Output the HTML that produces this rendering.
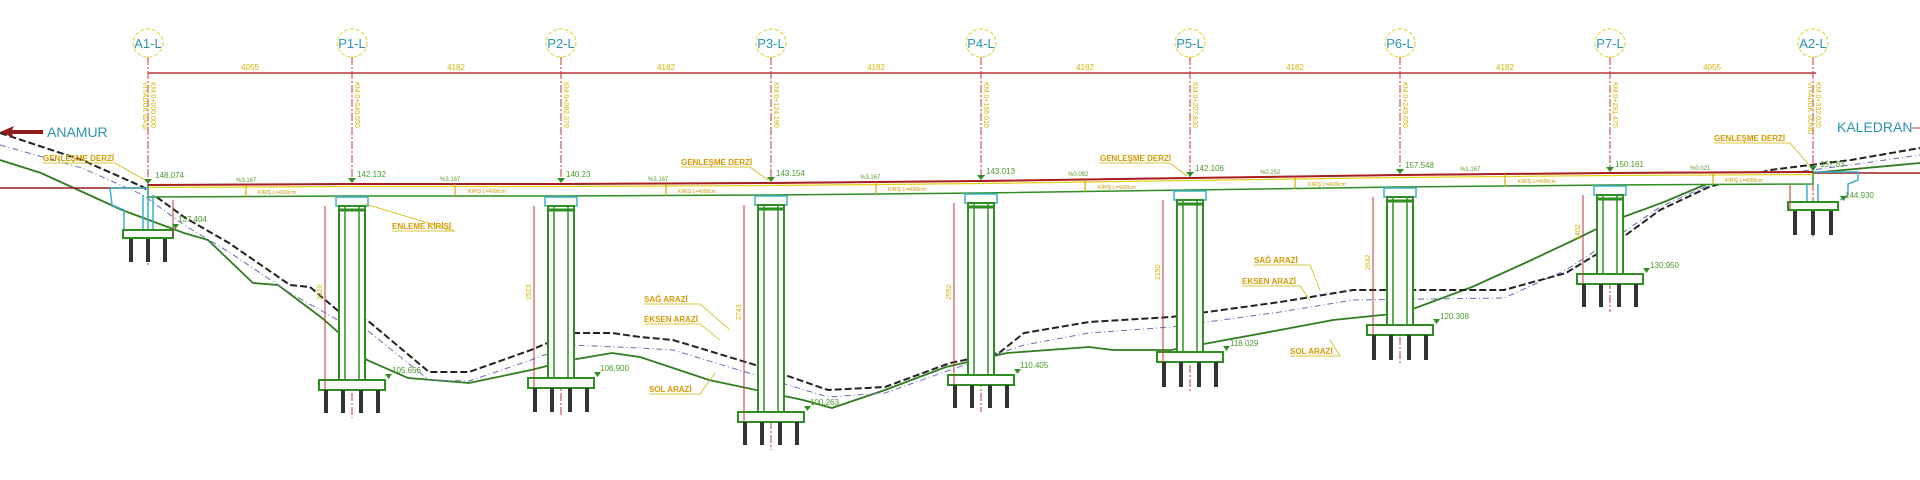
<!DOCTYPE html>
<html><head><meta charset="utf-8"><style>
html,body{margin:0;padding:0;background:#fff;width:1920px;height:480px;overflow:hidden}
svg{display:block}
text{font-family:"Liberation Sans",sans-serif}
</style></head><body>
<svg width="1920" height="480" viewBox="0 0 1920 480" xmlns="http://www.w3.org/2000/svg">
<!-- dimension line -->
<line x1="148" y1="73" x2="1816" y2="73" stroke="#b83a3a" stroke-width="1.5"/>
<g font-size="8" fill="#d4b400" text-anchor="middle">
<text x="250" y="70">4055</text><text x="456" y="70">4182</text><text x="666" y="70">4182</text>
<text x="876" y="70">4182</text><text x="1085" y="70">4182</text><text x="1295" y="70">4182</text>
<text x="1505" y="70">4182</text><text x="1712" y="70">4055</text>
</g>
<!-- axes & bubbles -->
<g stroke="#c23a3a" stroke-width="1" stroke-dasharray="8,2,2,2">
<line x1="148" y1="57" x2="148" y2="265"/><line x1="352" y1="57" x2="352" y2="418"/>
<line x1="561" y1="57" x2="561" y2="416"/><line x1="771" y1="57" x2="771" y2="450"/>
<line x1="981" y1="57" x2="981" y2="412"/><line x1="1190" y1="57" x2="1190" y2="392"/>
<line x1="1400" y1="57" x2="1400" y2="365"/><line x1="1610" y1="57" x2="1610" y2="312"/>
<line x1="1813" y1="57" x2="1813" y2="238"/>
</g>
<g fill="none" stroke="#e8d84a" stroke-width="1.2" stroke-dasharray="4,2">
<ellipse cx="148" cy="43" rx="15" ry="14"/><ellipse cx="352" cy="43" rx="15" ry="14"/>
<ellipse cx="561" cy="43" rx="15" ry="14"/><ellipse cx="771" cy="43" rx="15" ry="14"/>
<ellipse cx="981" cy="43" rx="15" ry="14"/><ellipse cx="1190" cy="43" rx="15" ry="14"/>
<ellipse cx="1400" cy="43" rx="15" ry="14"/><ellipse cx="1610" cy="43" rx="15" ry="14"/>
<ellipse cx="1813" cy="43" rx="15" ry="14"/>
</g>
<g font-size="13" fill="#2a93b5" text-anchor="middle">
<text x="148" y="48">A1-L</text><text x="352" y="48">P1-L</text><text x="561" y="48">P2-L</text>
<text x="771" y="48">P3-L</text><text x="981" y="48">P4-L</text><text x="1190" y="48">P5-L</text>
<text x="1400" y="48">P6-L</text><text x="1610" y="48">P7-L</text><text x="1813" y="48">A2-L</text>
</g>
<!-- vertical station text -->
<g font-size="7" fill="#d4b400">
<text transform="translate(151,82) rotate(90)">KM:0+000.000</text><text transform="translate(143,82) rotate(90)">VİYADÜK BAŞI</text>
<text transform="translate(355,82) rotate(90)">KM:0+040.550</text><text transform="translate(564,82) rotate(90)">KM:0+082.370</text>
<text transform="translate(774,82) rotate(90)">KM:0+124.190</text><text transform="translate(984,82) rotate(90)">KM:0+166.010</text>
<text transform="translate(1193,82) rotate(90)">KM:0+207.830</text><text transform="translate(1403,82) rotate(90)">KM:0+249.650</text>
<text transform="translate(1613,82) rotate(90)">KM:0+291.470</text><text transform="translate(1816,82) rotate(90)">KM:0+332.020</text><text transform="translate(1808,82) rotate(90)">VİYADÜK SONU</text>
</g>
<!-- ground lines -->
<polyline fill="none" stroke="#2f7d1e" stroke-width="1.8" points="0,160 41,173 122,210 184,233 208,240 253,283 278,285 322,318 339,333 367,360 408,378 469,383 531,370 571,360 612,353 640,357 709,380 803,400 832,408 885,390 946,367 1007,353 1089,347 1113,350 1171,350 1280,330 1333,320 1402,313 1472,287 1525,263 1574,240 1615,220 1664,202 1709,183 1729,177 1811,173 1920,163"/>
<polyline fill="none" stroke="#6a6ab8" stroke-width="1" stroke-dasharray="6,3,1,3" points="0,145 82,168 143,195 184,225 229,252 290,293 343,323 367,330 429,380 469,381 531,360 571,345 640,348 673,350 762,377 828,397 885,393 950,370 1024,345 1089,333 1171,327 1280,312 1353,300 1504,298 1566,270 1615,238 1660,207 1709,185 1770,175 1851,165 1920,155"/>
<polyline fill="none" stroke="#222" stroke-width="2" stroke-dasharray="7,3" points="0,133 82,160 143,187 184,217 229,243 290,285 310,287 343,315 367,320 429,372 469,372 531,350 571,333 612,333 640,337 673,340 762,367 828,390 885,387 950,363 999,353 1024,333 1089,322 1171,317 1280,302 1353,290 1504,290 1566,273 1615,243 1660,210 1709,187 1770,170 1851,160 1920,148"/>
<!-- road line outside -->
<line x1="0" y1="188" x2="148" y2="188" stroke="#9b1c1c" stroke-width="1.5"/>
<line x1="1813" y1="173" x2="1920" y2="173" stroke="#9b1c1c" stroke-width="1.5"/>
<!-- deck -->
<polygon points="148,185 352,184 561,184 771,183 981,181 1190,178 1400,175 1610,173 1813,172 1813,184 1610,185 1400,187 1190,190 981,193 771,195 561,196 352,196 148,197" fill="#fff" stroke="#2f8f22" stroke-width="1.5"/>
<polyline fill="none" stroke="#a81e1e" stroke-width="2" points="148,185 352,184 561,184 771,183 981,181 1190,178 1400,175 1610,173 1813,172"/>
<polyline fill="none" stroke="#e6cf1a" stroke-width="1.2" points="148,187.5 352,186.5 561,186.5 771,185.5 981,183.5 1190,180.5 1400,177.5 1610,175.5 1813,174.5"/>
<g stroke="#d4a800" stroke-width="1.2">
<line x1="246" y1="185" x2="246" y2="197"/><line x1="455" y1="184" x2="455" y2="196"/>
<line x1="666" y1="184" x2="666" y2="196"/><line x1="876" y1="182" x2="876" y2="194"/>
<line x1="1085" y1="180" x2="1085" y2="192"/><line x1="1295" y1="177" x2="1295" y2="189"/>
<line x1="1505" y1="174" x2="1505" y2="186"/><line x1="1713" y1="173" x2="1713" y2="185"/>
</g>
<g font-size="5" fill="#c89800">
<text x="258" y="194">KİRİŞ L=4000cm</text><text x="468" y="193">KİRİŞ L=4000cm</text><text x="678" y="193">KİRİŞ L=4000cm</text>
<text x="888" y="191">KİRİŞ L=4000cm</text><text x="1098" y="189">KİRİŞ L=4000cm</text><text x="1308" y="186">KİRİŞ L=4000cm</text>
<text x="1518" y="183">KİRİŞ L=4000cm</text><text x="1725" y="182">KİRİŞ L=4000cm</text>
</g>
<g font-size="6" fill="#5a9a2a">
<text x="236" y="182">%3.167</text><text x="440" y="181">%3.167</text><text x="648" y="181">%3.167</text>
<text x="860" y="179">%3.167</text><text x="1068" y="176">%0.092</text><text x="1260" y="174">%0.252</text>
<text x="1460" y="171">%1.167</text><text x="1690" y="170">%0.021</text>
</g>
<!-- piers -->
<g fill="#fff" stroke-width="1.5">
<!-- generic per pier -->
<g id="p1">
<rect x="336" y="197" width="32" height="9" stroke="#3bb0c9"/>
<rect x="339" y="206" width="26" height="174" stroke="#2f8f22" stroke-width="2"/>
<rect x="319" y="380" width="66" height="10" stroke="#2f8f22" stroke-width="2"/>
</g>
<rect x="545" y="197" width="32" height="9" stroke="#3bb0c9"/>
<rect x="548" y="206" width="26" height="172" stroke="#2f8f22" stroke-width="2"/>
<rect x="528" y="378" width="66" height="10" stroke="#2f8f22" stroke-width="2"/>
<rect x="755" y="196" width="32" height="9" stroke="#3bb0c9"/>
<rect x="758" y="205" width="26" height="207" stroke="#2f8f22" stroke-width="2"/>
<rect x="738" y="412" width="66" height="10" stroke="#2f8f22" stroke-width="2"/>
<rect x="965" y="194" width="32" height="9" stroke="#3bb0c9"/>
<rect x="968" y="203" width="26" height="172" stroke="#2f8f22" stroke-width="2"/>
<rect x="948" y="375" width="66" height="10" stroke="#2f8f22" stroke-width="2"/>
<rect x="1174" y="191" width="32" height="9" stroke="#3bb0c9"/>
<rect x="1177" y="200" width="26" height="152" stroke="#2f8f22" stroke-width="2"/>
<rect x="1157" y="352" width="66" height="10" stroke="#2f8f22" stroke-width="2"/>
<rect x="1384" y="188" width="32" height="9" stroke="#3bb0c9"/>
<rect x="1387" y="197" width="26" height="128" stroke="#2f8f22" stroke-width="2"/>
<rect x="1367" y="325" width="66" height="10" stroke="#2f8f22" stroke-width="2"/>
<rect x="1594" y="186" width="32" height="9" stroke="#3bb0c9"/>
<rect x="1597" y="195" width="26" height="79" stroke="#2f8f22" stroke-width="2"/>
<rect x="1577" y="274" width="66" height="10" stroke="#2f8f22" stroke-width="2"/>
</g>
<!-- inner column lines -->
<g stroke="#2f8f22" stroke-width="1.5">
<path d="M345 206V380M359 206V380M554 206V378M568 206V378M764 205V412M778 205V412M974 203V375M988 203V375M1183 200V352M1197 200V352M1393 197V325M1407 197V325M1603 195V274M1617 195V274"/>
<path d="M339 210H365M548 210H574M758 209H784M968 207H994M1177 204H1203M1387 201H1413M1597 199H1623" stroke-width="3"/>
</g>
<!-- piles -->
<g stroke="#333" stroke-width="4">
<path d="M326 390V413M343 390V413M361 390V413M378 390V413"/>
<path d="M535 388V412M552 388V412M570 388V412M587 388V412"/>
<path d="M745 422V445M762 422V445M780 422V445M797 422V445"/>
<path d="M955 385V408M972 385V408M990 385V408M1007 385V408"/>
<path d="M1164 362V387M1181 362V387M1199 362V387M1216 362V387"/>
<path d="M1374 335V360M1391 335V360M1409 335V360M1426 335V360"/>
<path d="M1584 284V307M1601 284V307M1619 284V307M1636 284V307"/>
<path d="M131 238V262M148 238V262M165 238V262"/>
<path d="M1795 210V235M1813 210V235M1831 210V235"/>
</g>
<!-- abutments -->
<g fill="none" stroke="#3bb0c9" stroke-width="1.5">
<path d="M110 188H148V230M110 188L112 205L124 210V230H170M143 195V230M153 195V230"/>
<path d="M1813 172H1858V180L1848 184V195L1840 200M1807 184V210M1818 184V210"/>
</g>
<rect x="123" y="230" width="50" height="8" fill="#fff" stroke="#2f8f22" stroke-width="2"/>
<rect x="1788" y="202" width="50" height="8" fill="#fff" stroke="#2f8f22" stroke-width="2"/>
<!-- height dim lines -->
<g stroke="#b83a3a" stroke-width="1">
<path d="M325 206V390M534 206V388M744 205V422M954 203V385M1163 200V362M1373 197V335M1583 195V284M1790 185V210M173 200V238"/>
</g>
<g font-size="7" fill="#d4b400">
<text transform="translate(322,300) rotate(-90)">2420</text><text transform="translate(531,300) rotate(-90)">2523</text>
<text transform="translate(741,320) rotate(-90)">2743</text><text transform="translate(951,300) rotate(-90)">2592</text>
<text transform="translate(1160,280) rotate(-90)">2150</text><text transform="translate(1370,270) rotate(-90)">2642</text>
<text transform="translate(1580,240) rotate(-90)">1402</text>
</g>
<!-- bearing triangles -->
<g fill="#2f8f22">
<path d="M144,179h8l-4,5z M348,178h8l-4,5z M557,178h8l-4,5z M767,177h8l-4,5z M977,175h8l-4,5z M1186,172h8l-4,5z M1396,169h8l-4,5z M1606,167h8l-4,5z M1809,166h8l-4,5z"/>
<path d="M385,374h7l-3.5,5z M594,372h7l-3.5,5z M804,406h7l-3.5,5z M1014,369h7l-3.5,5z M1223,346h7l-3.5,5z M1433,319h7l-3.5,5z M1643,268h7l-3.5,5z M1840,196h7l-3.5,5z M172,224h7l-3.5,5z"/>
</g>
<g font-size="8" fill="#4a9a2a">
<text x="155" y="178">148.074</text><text x="357" y="177">142.132</text><text x="566" y="177">140.23</text>
<text x="776" y="176">143.154</text><text x="986" y="174">143.013</text><text x="1195" y="171">142.106</text>
<text x="1405" y="168">157.548</text><text x="1615" y="167">150.161</text><text x="1820" y="167">157.83</text>
<text x="178" y="222">137.404</text><text x="392" y="373">105.656</text><text x="600" y="371">108.900</text>
<text x="810" y="405">100.263</text><text x="1020" y="368">110.405</text><text x="1230" y="346">118.029</text>
<text x="1440" y="319">120.308</text><text x="1650" y="268">130.950</text><text x="1845" y="198">144.930</text>
</g>
<!-- labels -->
<g font-size="8" fill="#d49a00" font-weight="bold">
<text x="43" y="161">GENLEŞME DERZİ</text><text x="681" y="165">GENLEŞME DERZİ</text>
<text x="1100" y="161">GENLEŞME DERZİ</text><text x="1714" y="141">GENLEŞME DERZİ</text>
<text x="392" y="229">ENLEME KİRİŞİ</text>
<text x="644" y="302">SAĞ ARAZİ</text><text x="644" y="322">EKSEN ARAZİ</text><text x="649" y="392">SOL ARAZİ</text>
<text x="1254" y="263">SAĞ ARAZİ</text><text x="1242" y="284">EKSEN ARAZİ</text><text x="1290" y="354">SOL ARAZİ</text>
</g>
<g stroke="#d4b400" stroke-width="0.8" fill="none">
<path d="M43 163H115L145 180M681 167H750L768 180M1100 163H1170L1187 176M1714 143H1790L1810 166M392 231H455L365 204M644 304H700L730 330M644 324H700L720 340M649 394H700L715 373M1254 265H1310L1320 290M1242 286H1300L1310 300M1290 356H1340L1330 340"/>
</g>
<!-- direction labels -->
<path d="M0,132 L14,126 L12,130 L43,130 L43,134 L12,134 L14,138 Z" fill="#8e1c1c"/>
<text x="47" y="137" font-size="14" fill="#2a93b5">ANAMUR</text>
<text x="1837" y="132" font-size="14" fill="#2a93b5">KALEDRAN</text>
<line x1="1912" y1="128" x2="1920" y2="128" stroke="#c23a3a"/>
</svg>
</body></html>
